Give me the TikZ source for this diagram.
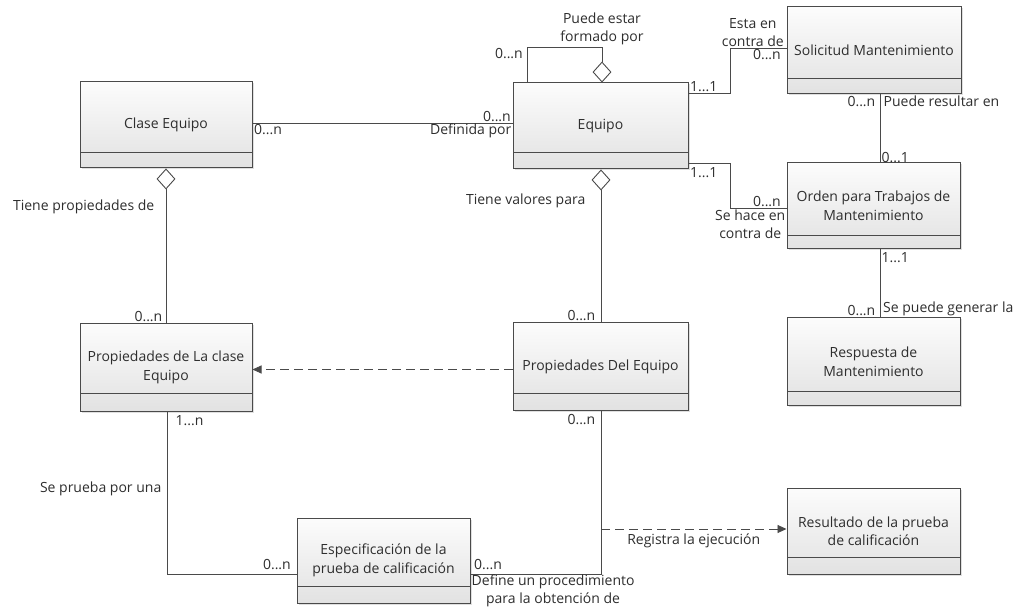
\documentclass[tikz,border=0pt]{standalone}
\usepackage{fontspec}
\setmainfont{Open Sans}
\usetikzlibrary{arrows.meta,shapes.geometric,shadows,calc}
\definecolor{lc}{HTML}{4A4A4A}
\definecolor{tc}{HTML}{2E2E2E}
\definecolor{boxtop}{HTML}{FCFCFC}
\definecolor{boxbot}{HTML}{E2E2E2}
\tikzset{
 cls/.style={draw=lc, line width=1pt, top color=boxtop, bottom color=boxbot, inner sep=0pt,
   drop shadow={shadow xshift=1.5pt, shadow yshift=-1.5pt, opacity=0.25}},
 ctext/.style={text=tc, font=\fontsize{14}{18.5}\selectfont, align=center, inner sep=1pt},
 lbl/.style={text=tc, font=\fontsize{14}{18}\selectfont, inner sep=1.5pt, align=center},
 conn/.style={draw=lc, line width=0.9pt},
 dconn/.style={conn, dash pattern=on 9pt off 5pt, -{Triangle[length=9pt,width=8pt]}},
 agg/.style={diamond, draw=lc, fill=white, line width=0.9pt, minimum width=18pt, minimum height=20pt, inner sep=0pt},
}
\newcommand{\umlcls}[7]{%
 \pgfmathsetmacro{\clsCX}{(#2+#4)/2}\pgfmathsetmacro{\clsCY}{(#3+#5)/2}%
 \pgfmathsetmacro{\clsW}{#4-#2}\pgfmathsetmacro{\clsH}{#5-#3}%
 \node[cls, minimum width=\clsW pt, minimum height=\clsH pt] (#1) at (\clsCX,\clsCY) {};
 \draw[conn] (#2,#6) -- (#4,#6);
 \node[ctext] (#1-t) at (\clsCX,\clsCY) {#7};
}
\begin{document}
\begin{tikzpicture}[x=1pt,y=-1pt]
\useasboundingbox (0,0) rectangle (1020,612);
\fill[white] (0,0) rectangle (1020,612);

\umlcls{ce}{80}{82}{252}{168}{152}{Clase Equipo}
\umlcls{eq}{513}{83}{688}{169}{152}{Equipo}
\umlcls{sm}{787}{7}{961}{94}{78}{Solicitud Mantenimiento}
\umlcls{ot}{787}{163}{960}{249}{235}{Orden para Trabajos de\\Mantenimiento}
\umlcls{rm}{787}{318}{960}{405}{391}{Respuesta de\\Mantenimiento}
\umlcls{pce}{80}{324}{252}{411}{393}{Propiedades de La clase\\Equipo}
\umlcls{pde}{513}{323}{688}{410}{393}{Propiedades Del Equipo}
\umlcls{esp}{297}{518}{470}{603}{586}{Especificación de la\\prueba de calificación}
\umlcls{res}{787}{488}{960}{574}{557}{Resultado de la prueba\\de calificación}

% Clase Equipo -- Equipo
\coordinate (a1) at ($(ce.east)+(0,-2)$);
\coordinate (a2) at (a1 -| eq.west);
\draw[conn] (a1) -- (a2);
\node[lbl, anchor=north west] at (a1) {0...n};
\node[lbl, anchor=south east] at (a2) {0...n};
\node[lbl, anchor=north east, inner sep=1pt] at (a2) {Definida por};

% Equipo self aggregation
\node[agg, anchor=south] (d1) at ($(eq.north)+(1.5,0)$) {};
\coordinate (lp1) at ($(eq.north west)+(15,-35)$);
\coordinate (lp2) at (lp1 -| d1.north);
\draw[conn] (lp1 |- eq.north) -- (lp1) -- (lp2) -- (d1.north);
\node[lbl, anchor=south] at ($(lp2)+(0,-1)$) {Puede estar\\formado por};
\node[lbl, anchor=north east] at ($(lp1)+(-3,-1)$) {0...n};

% Equipo -- Solicitud
\coordinate (b0) at ($(eq.north east)+(0,11)$);
\coordinate (b1) at ($(eq.east)+(42,-78)$);
\coordinate (b2) at (b1 -| sm.west);
\draw[conn] (b0) -| (b1) -- (b2);
\node[lbl, anchor=south west] at (b0) {1...1};
\node[lbl, anchor=south east] at ($(b2)+(-1,0)$) {Esta en\\contra de};
\node[lbl, anchor=north east] at ($(b2)+(-4,0)$) {0...n};

% Equipo -- Orden
\coordinate (c0) at ($(eq.south east)+(0,-6)$);
\coordinate (c1) at ($(eq.east)+(42,82)$);
\coordinate (c2) at (c1 -| ot.west);
\draw[conn] (c0) -| (c1) -- (c2);
\node[lbl, anchor=north west] at ($(c0)+(0,2)$) {1...1};
\node[lbl, anchor=south east, inner sep=0.5pt] at ($(c2)+(-5,-1)$) {0...n};
\node[lbl, anchor=north east, inner sep=1pt] at ($(c2)+(0,1)$) {Se hace en\\contra de};

% Solicitud -- Orden
\coordinate (v1) at ($(sm.south)+(6,0)$);
\coordinate (v1e) at (v1 |- ot.north);
\draw[conn] (v1) -- (v1e);
\node[lbl, anchor=north east] at ($(v1)+(-3,0)$) {0...n};
\node[lbl, anchor=north west] at ($(v1)+(2,0)$) {Puede resultar en};
\node[lbl, anchor=south west] at ($(v1e)+(0,2)$) {0...1};

% Orden -- Respuesta
\coordinate (v2) at ($(ot.south)+(6.5,0)$);
\coordinate (v2e) at (v2 |- rm.north);
\draw[conn] (v2) -- (v2e);
\node[lbl, anchor=north west] at ($(v2)+(0,1)$) {1...1};
\node[lbl, anchor=south east] at ($(v2e)+(-3,0)$) {0...n};
\node[lbl, anchor=south west, inner sep=1pt] at ($(v2e)+(2,0)$) {Se puede generar la};

% Clase Equipo -- Propiedades de La clase Equipo
\node[agg, anchor=north] (d2) at (ce.south) {};
\coordinate (d2e) at (d2.south |- pce.north);
\draw[conn] (d2.south) -- (d2e);
\node[lbl, anchor=east] at ($(d2.south)+(-10,17)$) {Tiene propiedades de};
\node[lbl, anchor=south east] at ($(d2e)+(-2,0)$) {0...n};

% Equipo -- Propiedades Del Equipo
\node[agg, anchor=north] (d3) at ($(eq.south)+(0.5,0)$) {};
\coordinate (d3e) at (d3.south |- pde.north);
\draw[conn] (d3.south) -- (d3e);
\node[lbl, anchor=east] at ($(d3.south)+(-14,10)$) {Tiene valores para};
\node[lbl, anchor=south east] at ($(d3e)+(-4,0)$) {0...n};

% Propiedades Del Equipo ..> Propiedades de La clase
\coordinate (p1) at ($(pde.west)+(0,3)$);
\draw[dconn] (p1) -- (p1 -| pce.east);

% Propiedades de La clase -- Especificacion
\coordinate (v3) at ($(pce.south)+(1,0)$);
\coordinate (e3) at ($(esp.west)+(0,13.5)$);
\draw[conn] (v3) |- (e3);
\node[lbl, anchor=north west] at ($(v3)+(7,2)$) {1...n};
\node[lbl, anchor=east] at ($(v3)+(-4,77)$) {Se prueba por una};
\node[lbl, anchor=south east] at ($(e3)+(-4,-3)$) {0...n};

% Propiedades Del Equipo -- Especificacion
\coordinate (v4) at ($(pde.south)+(0.5,0)$);
\coordinate (e4) at ($(esp.east)+(0,13.5)$);
\draw[conn] (v4) |- (e4);
\node[lbl, anchor=north east] at ($(v4)+(-4,2)$) {0...n};
\node[lbl, anchor=south west] at ($(e4)+(2,-3)$) {0...n};
\node[lbl, anchor=north west, inner sep=1pt] at (e4) {Define un procedimiento\\para la obtención de};

% Registra la ejecucion
\coordinate (r1) at ($(v4 |- res.west)+(0,-2)$);
\coordinate (r2) at (r1 -| res.west);
\draw[dconn] (r1) -- (r2);
\node[lbl, anchor=north] at ($(r1)!0.5!(r2)+(0,3)$) {Registra la ejecución};
\end{tikzpicture}
\end{document}
